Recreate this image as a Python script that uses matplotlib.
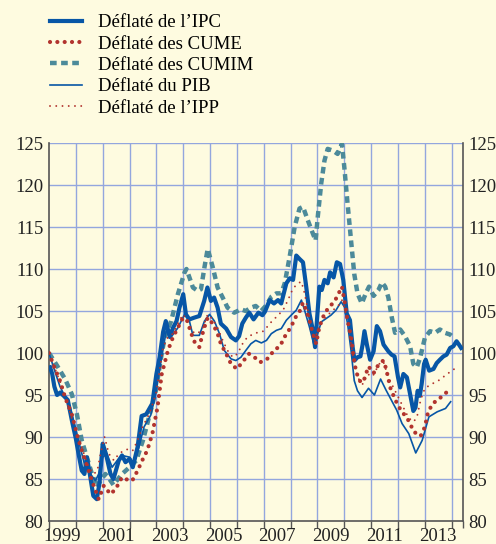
"""Taux de change effectif réel de l'euro, déflaté par différents indices (base 1999 = 100)."""
import matplotlib
matplotlib.use("Agg")
import matplotlib.pyplot as plt
from matplotlib.ticker import FixedLocator, NullFormatter

plt.rcParams["font.family"] = ["Liberation Serif", "DejaVu Serif"]

BG = "#FEFBE0"
GRID = "#93A6DE"
BLUE = "#0756A6"
TEAL = "#4C8A9A"
RED = "#B2342E"

# ── data (decimal year, index) ────────────────────────────────────────────────
ipc_x = [1999.04, 1999.12, 1999.2, 1999.3, 1999.42, 1999.55, 1999.7, 1999.85, 2000.0, 2000.1,
         2000.22, 2000.32, 2000.41, 2000.52, 2000.65, 2000.78, 2000.88, 2001.0, 2001.12, 2001.29,
         2001.4, 2001.6, 2001.72, 2001.85, 2002.0, 2002.12, 2002.3, 2002.45, 2002.62, 2002.85,
         2003.0, 2003.12, 2003.25, 2003.35, 2003.5, 2003.62, 2003.75, 2003.86, 2004.0, 2004.1,
         2004.23, 2004.4, 2004.6, 2004.78, 2004.9, 2005.03, 2005.15, 2005.28, 2005.4, 2005.6,
         2005.78, 2005.96, 2006.08, 2006.2, 2006.33, 2006.46, 2006.62, 2006.8, 2006.95, 2007.04,
         2007.22, 2007.38, 2007.53, 2007.65, 2007.84, 2007.97, 2008.09, 2008.21, 2008.33, 2008.46,
         2008.58, 2008.7, 2008.83, 2008.91, 2008.99, 2009.07, 2009.16, 2009.26, 2009.38, 2009.47,
         2009.6, 2009.72, 2009.84, 2009.96, 2010.09, 2010.21, 2010.31, 2010.38, 2010.49, 2010.6,
         2010.68, 2010.75, 2010.84, 2010.96, 2011.09, 2011.21, 2011.33, 2011.46, 2011.64, 2011.76,
         2011.87, 2012.0, 2012.08, 2012.2, 2012.33, 2012.45, 2012.57, 2012.65, 2012.73, 2012.81,
         2012.88, 2012.97, 2013.03, 2013.16, 2013.32, 2013.44, 2013.56, 2013.69, 2013.81, 2013.94,
         2014.06, 2014.18, 2014.27, 2014.35]
ipc_y = [98.3, 97.5, 96.0, 95.0, 95.3, 94.9, 94.4, 92.0, 89.8, 88.0,
         86.0, 85.6, 87.6, 85.6, 83.0, 82.6, 84.5, 89.2, 88.0, 85.6,
         85.0, 87.2, 87.8, 87.0, 87.4, 86.4, 88.8, 92.5, 92.7, 94.0,
         97.5, 99.5, 102.5, 103.8, 101.9, 103.0, 103.8, 105.4, 107.0, 104.6,
         104.0, 104.2, 104.4, 106.2, 107.8, 106.2, 106.6, 105.4, 103.5, 102.9,
         101.9, 101.5, 102.0, 103.5, 104.2, 104.8, 104.0, 104.8, 104.5, 104.9,
         106.3, 105.9, 106.3, 105.9, 108.3, 108.9, 108.7, 111.6, 111.2, 110.8,
         107.9, 104.7, 102.7, 100.7, 104.3, 107.9, 107.5, 108.7, 108.3, 109.6,
         109.0, 110.8, 110.6, 108.7, 104.7, 103.9, 100.7, 99.1, 99.5, 99.6,
         101.0, 102.6, 101.0, 99.2, 100.2, 103.2, 102.6, 101.0, 100.2, 99.8,
         99.6, 97.1, 95.9, 97.5, 97.1, 95.1, 93.1, 93.5, 95.5, 94.9,
         96.3, 98.7, 99.2, 97.9, 98.1, 98.8, 99.2, 99.6, 99.8, 100.6,
         100.8, 101.4, 101.0, 100.6]

cume_x = [1999.0, 1999.2, 1999.41, 1999.6, 1999.85, 2000.1, 2000.35, 2000.6, 2000.85, 2001.04,
          2001.29, 2001.48, 2001.72, 2002.0, 2002.1, 2002.3, 2002.47, 2002.66, 2002.85, 2003.04,
          2003.2, 2003.43, 2003.62, 2003.8, 2003.99, 2004.15, 2004.3, 2004.45, 2004.6, 2004.75,
          2004.91, 2005.1, 2005.28, 2005.4, 2005.6, 2005.78, 2006.0, 2006.2, 2006.45, 2006.65,
          2006.87, 2007.18, 2007.37, 2007.6, 2007.84, 2008.02, 2008.15, 2008.33, 2008.46, 2008.58,
          2008.7, 2008.83, 2008.95, 2009.07, 2009.26, 2009.44, 2009.63, 2009.79, 2009.91, 2010.0,
          2010.12, 2010.25, 2010.33, 2010.43, 2010.56, 2010.7, 2010.9, 2011.09, 2011.27, 2011.45,
          2011.55, 2011.72, 2011.9, 2012.1, 2012.35, 2012.6, 2012.84, 2013.0, 2013.12, 2013.3,
          2013.55, 2013.8]
cume_y = [100.0, 98.3, 96.7, 94.7, 92.7, 89.6, 87.2, 84.8, 82.6, 84.2,
          83.2, 83.8, 85.2, 84.8, 84.8, 86.0, 87.2, 88.4, 90.4, 93.5,
          97.5, 100.3, 101.9, 103.0, 104.2, 103.8, 102.3, 101.1, 100.7, 102.7,
          104.2, 103.5, 102.3, 101.1, 99.9, 98.7, 98.1, 98.9, 99.9, 99.5,
          98.9, 99.4, 100.3, 100.8, 102.3, 103.1, 104.1, 104.9, 106.0, 105.1,
          103.9, 102.3, 101.1, 103.1, 104.7, 105.5, 106.1, 107.1, 107.9, 106.3,
          103.9, 101.9, 99.9, 97.9, 96.7, 96.5, 98.4, 97.6, 98.6, 99.1,
          98.2, 95.8, 94.4, 93.2, 92.2, 90.6, 90.1, 91.2, 93.0, 94.0,
          94.6, 95.3]

cumim_x = [1999.0, 1999.3, 1999.6, 1999.85, 2000.04, 2000.22, 2000.41, 2000.6, 2000.79, 2000.91,
           2001.1, 2001.25, 2001.4, 2001.72, 2002.0, 2002.25, 2002.5, 2002.72, 2002.98, 2003.15,
           2003.31, 2003.55, 2003.8, 2004.05, 2004.12, 2004.23, 2004.36, 2004.54, 2004.66, 2004.79,
           2004.91, 2005.1, 2005.28, 2005.47, 2005.65, 2005.9, 2006.15, 2006.33, 2006.52, 2006.7,
           2006.9, 2007.1, 2007.28, 2007.47, 2007.65, 2007.78, 2007.96, 2008.15, 2008.33, 2008.46,
           2008.64, 2008.83, 2008.93, 2009.01, 2009.14, 2009.26, 2009.38, 2009.57, 2009.75, 2009.91,
           2010.0, 2010.12, 2010.25, 2010.37, 2010.49, 2010.65, 2010.8, 2010.92, 2011.09, 2011.27,
           2011.4, 2011.52, 2011.64, 2011.77, 2011.89, 2012.08, 2012.26, 2012.45, 2012.57, 2012.7,
           2012.82, 2013.0, 2013.19, 2013.38, 2013.56, 2013.75, 2013.94, 2014.05]
cumim_y = [100.0, 98.5, 96.9, 95.1, 92.7, 89.6, 87.6, 85.6, 84.0, 84.8,
           85.6, 85.0, 84.3, 85.6, 86.4, 87.2, 89.6, 92.3, 95.5, 99.0,
           101.9, 103.8, 107.0, 109.6, 110.0, 109.0, 107.8, 107.4, 107.6, 110.2,
           112.4, 110.2, 107.8, 106.6, 105.4, 104.8, 105.2, 105.0, 105.4, 105.6,
           105.0, 105.7, 106.7, 107.1, 107.1, 108.3, 111.4, 115.0, 117.2, 117.4,
           115.8, 114.2, 113.4, 116.2, 120.2, 122.9, 124.3, 124.1, 123.7, 124.9,
           122.1, 117.8, 113.4, 109.4, 107.1, 105.9, 107.1, 107.9, 106.8, 107.5,
           108.4, 107.9, 106.6, 104.2, 102.4, 102.8, 102.0, 100.8, 98.7, 98.3,
           99.4, 101.8, 102.6, 102.4, 102.8, 102.4, 102.2, 101.9]

pib_x = [1999.0, 1999.2, 1999.41, 1999.6, 1999.79, 1999.98, 2000.16, 2000.35, 2000.54, 2000.73,
         2000.85, 2001.0, 2001.16, 2001.35, 2001.54, 2001.72, 2002.0, 2002.16, 2002.35, 2002.54,
         2002.79, 2002.98, 2003.16, 2003.37, 2003.55, 2003.8, 2004.05, 2004.23, 2004.36, 2004.6,
         2004.79, 2004.98, 2005.16, 2005.35, 2005.53, 2005.78, 2005.96, 2006.15, 2006.33, 2006.52,
         2006.7, 2006.91, 2007.1, 2007.28, 2007.47, 2007.65, 2007.84, 2008.02, 2008.21, 2008.4,
         2008.52, 2008.7, 2008.89, 2009.01, 2009.14, 2009.32, 2009.5, 2009.69, 2009.88, 2010.0,
         2010.12, 2010.25, 2010.37, 2010.49, 2010.66, 2010.9, 2011.12, 2011.35, 2011.55, 2011.75,
         2011.95, 2012.15, 2012.4, 2012.66, 2012.9, 2013.15, 2013.46, 2013.77, 2013.96]
pib_y = [100.0, 98.0, 96.0, 94.8, 93.5, 91.2, 88.8, 86.4, 85.6, 84.8,
         85.6, 87.6, 88.0, 86.4, 87.2, 87.8, 87.6, 86.8, 88.8, 91.2,
         92.6, 95.2, 98.8, 102.7, 101.9, 103.0, 104.6, 103.8, 102.1, 102.1,
         103.8, 104.6, 103.8, 102.3, 100.3, 99.3, 99.1, 99.5, 100.3, 101.1,
         101.5, 101.2, 101.5, 102.3, 102.7, 102.9, 103.9, 104.5, 105.1, 106.3,
         105.1, 103.1, 100.7, 102.3, 103.7, 104.1, 104.5, 105.1, 106.1, 105.5,
         103.5, 100.3, 96.7, 95.5, 94.7, 95.8, 95.0, 96.9, 95.6, 94.4,
         93.2, 91.6, 90.4, 88.1, 89.6, 92.4, 93.0, 93.4, 94.2]

ipp_x = [1999.0, 1999.3, 1999.55, 1999.8, 2000.05, 2000.3, 2000.48, 2000.67, 2000.8, 2000.92,
         2001.07, 2001.23, 2001.42, 2001.6, 2001.8, 2001.99, 2002.12, 2002.3, 2002.48, 2002.73,
         2002.98, 2003.1, 2003.25, 2003.43, 2003.62, 2003.8, 2003.99, 2004.17, 2004.36, 2004.54,
         2004.73, 2004.91, 2005.1, 2005.28, 2005.47, 2005.65, 2005.84, 2006.02, 2006.21, 2006.39,
         2006.64, 2006.83, 2007.0, 2007.22, 2007.47, 2007.72, 2007.9, 2008.09, 2008.28, 2008.4,
         2008.52, 2008.64, 2008.77, 2008.89, 2009.01, 2009.14, 2009.32, 2009.57, 2009.75, 2009.91,
         2010.0, 2010.12, 2010.25, 2010.37, 2010.49, 2010.68, 2010.86, 2011.05, 2011.3, 2011.45,
         2011.64, 2011.89, 2012.14, 2012.39, 2012.57, 2012.7, 2012.85, 2013.0, 2013.25, 2013.5,
         2013.75, 2014.0, 2014.2]
ipp_y = [100.0, 97.5, 95.5, 92.7, 90.4, 88.0, 86.4, 85.6, 86.0, 88.0,
         90.0, 88.0, 87.2, 88.0, 88.4, 88.6, 88.4, 89.6, 91.2, 92.7,
         95.1, 97.5, 100.7, 101.9, 102.3, 103.5, 104.6, 103.8, 102.5, 102.3,
         103.0, 104.6, 104.0, 103.0, 101.5, 100.3, 99.5, 99.9, 101.1, 101.9,
         102.3, 102.5, 102.6, 103.5, 104.3, 105.1, 106.3, 107.7, 108.3, 108.5,
         107.1, 105.1, 103.1, 101.5, 102.7, 103.7, 104.3, 105.1, 105.5, 106.3,
         105.5, 103.5, 101.1, 98.7, 97.1, 96.3, 97.5, 97.2, 98.7, 99.0,
         97.1, 95.5, 93.9, 92.3, 91.8, 92.3, 94.5, 95.8, 96.3, 96.7,
         97.3, 97.9, 98.3]

labels = ["Déflaté de l\u2019IPC", "Déflaté des CUME", "Déflaté des CUMIM",
          "Déflaté du PIB", "Déflaté de l\u2019IPP"]
year_ticks = list(range(1999, 2015))
year_labels = [1999, 2001, 2003, 2005, 2007, 2009, 2011, 2013]

# ── figure ───────────────────────────────────────────────────────────────────
fig = plt.figure(figsize=(4.96, 5.44), dpi=100, facecolor=BG)
ax = fig.add_axes([49 / 496, 1 - 521 / 544, (463 - 49) / 496, (521 - 143) / 544])
ax.set_facecolor(BG)

l_cumim, = ax.plot(cumim_x, cumim_y, color=TEAL, lw=3.2, ls=(0, (1.5, 1.0)), zorder=3)
l_ipc, = ax.plot(ipc_x, ipc_y, color=BLUE, lw=3.0, solid_joinstyle="round", zorder=4)
l_pib, = ax.plot(pib_x, pib_y, color=BLUE, lw=1.2, zorder=5)
l_cume, = ax.plot(cume_x, cume_y, color=RED, lw=3.0, ls=(0, (0.01, 1.75)),
                  dash_capstyle="round", zorder=6)
l_ipp, = ax.plot(ipp_x, ipp_y, color=RED, lw=1.4, ls=(0, (0.01, 3.2)),
                 dash_capstyle="round", zorder=6)

ax.set_xlim(1999, 2014.42)
ax.set_ylim(80, 125)
ax.set_yticks(range(80, 126, 5))
ax.tick_params(axis="y", length=0, labelsize=13.5, colors="#222222", pad=4,
               labelright=True, right=False)
ax.xaxis.set_major_locator(FixedLocator(year_ticks + [2014.42]))
ax.xaxis.set_major_formatter(NullFormatter())
ax.tick_params(axis="x", direction="out", length=5, width=1, color="#555555")
for yr in year_labels:
    ax.text(yr + 0.5, 79.2, str(yr), ha="center", va="top", fontsize=13.5,
            color="#222222", transform=ax.transData)

for v in range(85, 126, 5):
    ax.axhline(v, color=GRID, lw=1.0, zorder=1)
for yr in range(2000, 2015):
    ax.axvline(yr, color=GRID, lw=1.0, zorder=1)

for side in ["left", "right", "bottom"]:
    ax.spines[side].set_color("#555555")
    ax.spines[side].set_linewidth(1.2)
ax.spines["top"].set_visible(False)

fig.legend([l_ipc, l_cume, l_cumim, l_pib, l_ipp], labels, loc="upper left",
           bbox_to_anchor=(50 / 496, 1 - 14 / 544), frameon=False, fontsize=13.5,
           handlelength=1.7, handletextpad=0.85, labelspacing=0.23, borderpad=0,
           borderaxespad=0)

plt.savefig("out.png", dpi=100, facecolor=BG)
